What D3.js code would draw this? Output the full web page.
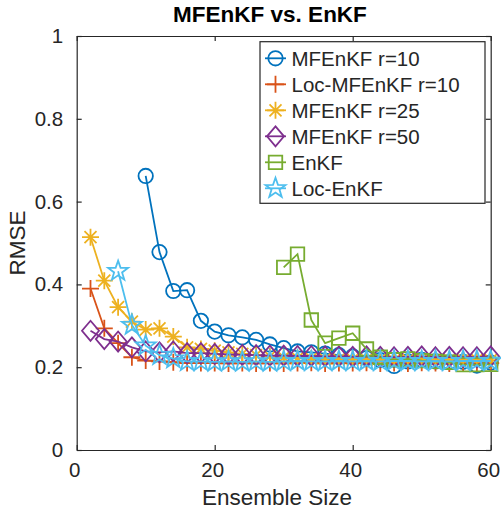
<!DOCTYPE html>
<html>
<head>
<meta charset="utf-8">
<script src="https://cdn.jsdelivr.net/npm/d3@7"></script>
<style>
    body { margin: 0; background: #fff; }
    svg { display: block; font-family: "Liberation Sans", Arial, sans-serif; }
    .axis text { fill: #262626; font-size: 20.5px; }
    .axis path, .axis line { stroke: #262626; stroke-width: 1.2; }
</style>
</head>
<body>
<div id="chart-container"></div>
<script>
// ensemble sizes on the x axis
var ensembleSizes = [2, 4, 6, 8, 10, 12, 14, 16, 18, 20, 22, 24, 26, 28, 30,
    32, 34, 36, 38, 40, 42, 44, 46, 48, 50, 52, 54, 56, 58, 60];

// RMSE per series, null where the method was not run
var mfenkf10 = [null, null, null, null, 0.662, 0.478, 0.384, 0.386, 0.312, 0.286,
    0.277, 0.272, 0.266, 0.255, 0.246, 0.238, 0.236, 0.233, 0.229, 0.226,
    0.222, 0.217, 0.203, 0.214, 0.218, 0.214, 0.212, 0.213, 0.204, 0.211];
var locMfenkf10 = [0.390, 0.294, 0.258, 0.224, 0.216, 0.214, 0.212, 0.210, 0.210, 0.210,
    0.209, 0.210, 0.209, 0.210, 0.209, 0.210, 0.211, 0.209, 0.210, 0.210,
    0.211, 0.209, 0.210, 0.209, 0.211, 0.210, 0.209, 0.210, 0.209, 0.210];
var mfenkf25 = [0.514, 0.409, 0.345, 0.310, 0.291, 0.294, 0.274, 0.248, 0.244, 0.240,
    0.236, 0.232, 0.229, 0.226, 0.224, 0.222, 0.221, 0.220, 0.219, 0.219,
    0.218, 0.219, 0.217, 0.218, 0.218, 0.217, 0.218, 0.217, 0.218, 0.217];
var mfenkf50 = [0.288, 0.268, 0.262, 0.248, 0.238, 0.236, 0.238, 0.234, 0.234, 0.232,
    0.231, 0.230, 0.229, 0.228, 0.228, 0.227, 0.227, 0.226, 0.226, 0.225,
    0.226, 0.225, 0.224, 0.225, 0.226, 0.224, 0.225, 0.224, 0.224, 0.226];
var enkf = [null, null, null, null, null, null, null, null, null, null,
    null, null, null, null, 0.441, 0.473, 0.314, 0.258, 0.270, 0.282,
    0.244, 0.224, 0.218, 0.220, 0.216, 0.214, 0.212, 0.206, 0.206, 0.207];
var locEnkf = [null, null, 0.432, 0.302, 0.252, 0.229, 0.221, 0.214, 0.214, 0.213,
    0.214, 0.213, 0.214, 0.213, 0.214, 0.215, 0.214, 0.214, 0.215, 0.214,
    0.215, 0.214, 0.215, 0.215, 0.214, 0.215, 0.214, 0.215, 0.215, 0.215];

var seriesNames = ["MFEnKF r=10", "Loc-MFEnKF r=10", "MFEnKF r=25", "MFEnKF r=50", "EnKF", "Loc-EnKF"];
var seriesValues = [mfenkf10, locMfenkf10, mfenkf25, mfenkf50, enkf, locEnkf];
var seriesColors = ["#0072BD", "#D95319", "#EDB120", "#7E2F8E", "#77AC30", "#4DBEEE"];
var seriesMarkers = ["circle", "plus", "asterisk", "diamond", "square", "pentagram"];

var xTicks = [0, 20, 40, 60];
var xTickLabels = ["0", "20", "40", "60"];
var yTicks = [0, 0.2, 0.4, 0.6, 0.8, 1];
var yTickLabels = ["0", "0.2", "0.4", "0.6", "0.8", "1"];

var settings = {
    w: 501,
    h: 510,
    left: 76.7,
    right: 490.7,
    top: 36,
    bottom: 450,
    tick: 5,
    lineWidth: 1.8,
    title: "MFEnKF vs. EnKF",
    xLabel: "Ensemble Size",
    yLabel: "RMSE"
};

// marker outlines, all drawn unfilled like matlab does
function markerPath(type) {
    var i, a, r, pts;
    switch (type) {
        case "circle":
            return d3.symbol().type(d3.symbolCircle).size(Math.PI * 7.2 * 7.2)();
        case "square":
            return d3.symbol().type(d3.symbolSquare).size(13.5 * 13.5)();
        case "diamond":
            return "M0,-10L8.5,0L0,10L-8.5,0Z";
        case "plus":
            return "M-8.5,0H8.5M0,-8.5V8.5";
        case "asterisk":
            return "M-8.5,0H8.5M0,-8.5V8.5M-6,-6L6,6M-6,6L6,-6";
        case "pentagram":
            pts = [];
            for (i = 0; i < 10; i++) {
                a = -Math.PI / 2 + i * Math.PI / 5;
                r = i % 2 === 0 ? 10.5 : 4.2;
                pts.push([r * Math.cos(a), r * Math.sin(a)]);
            }
            return "M" + pts.join("L") + "Z";
    }
}

var svg = d3.select("#chart-container").append("svg")
    .attr("width", settings.w)
    .attr("height", settings.h);

var xScale = d3.scaleLinear().domain([0, 60]).range([settings.left, settings.right]);
var yScale = d3.scaleLinear().domain([0, 1]).range([settings.bottom, settings.top]);

// axes box, ticks pointing inward
svg.append("g")
    .attr("class", "axis")
    .attr("transform", "translate(0," + settings.bottom + ")")
    .call(d3.axisBottom(xScale).tickValues(xTicks)
        .tickFormat(function(d, i) { return xTickLabels[i]; })
        .tickSize(-settings.tick).tickSizeOuter(0).tickPadding(12))
    .selectAll("text")
    .attr("dx", -2.5);

svg.append("g")
    .attr("class", "axis")
    .attr("transform", "translate(0," + settings.top + ")")
    .call(d3.axisTop(xScale).tickValues(xTicks).tickFormat("")
        .tickSize(-settings.tick).tickSizeOuter(0));

svg.append("g")
    .attr("class", "axis")
    .attr("transform", "translate(" + settings.left + ",0)")
    .call(d3.axisLeft(yScale).tickValues(yTicks)
        .tickFormat(function(d, i) { return yTickLabels[i]; })
        .tickSize(-settings.tick).tickSizeOuter(0).tickPadding(13.5));

svg.append("g")
    .attr("class", "axis")
    .attr("transform", "translate(" + settings.right + ",0)")
    .call(d3.axisRight(yScale).tickValues(yTicks).tickFormat("")
        .tickSize(-settings.tick).tickSizeOuter(0));

svg.selectAll(".axis").attr("font-size", null).attr("font-family", null);

// series
var line = d3.line()
    .defined(function(d) { return d.v !== null; })
    .x(function(d) { return xScale(d.x); })
    .y(function(d) { return yScale(d.v); });

seriesValues.forEach(function(values, s) {
    var pts = ensembleSizes.map(function(x, i) { return {x: x, v: values[i]}; });
    var g = svg.append("g").attr("class", "series");

    g.append("path")
        .datum(pts)
        .attr("d", line)
        .attr("fill", "none")
        .attr("stroke", seriesColors[s])
        .attr("stroke-width", settings.lineWidth);

    g.selectAll(".marker")
        .data(pts.filter(function(d) { return d.v !== null; }))
        .enter()
        .append("path")
        .attr("class", "marker")
        .attr("transform", function(d) {
            return "translate(" + xScale(d.x) + "," + yScale(d.v) + ")";
        })
        .attr("d", markerPath(seriesMarkers[s]))
        .attr("fill", "none")
        .attr("stroke", seriesColors[s])
        .attr("stroke-width", settings.lineWidth);
});

// labels
svg.append("text")
    .attr("x", 270)
    .attr("y", 22)
    .attr("text-anchor", "middle")
    .attr("font-weight", "bold")
    .attr("font-size", "22.5px")
    .attr("fill", "#000")
    .text(settings.title);

svg.append("text")
    .attr("x", 277)
    .attr("y", 505)
    .attr("text-anchor", "middle")
    .attr("font-size", "22.5px")
    .attr("fill", "#262626")
    .text(settings.xLabel);

svg.append("text")
    .attr("transform", "translate(25,243) rotate(-90)")
    .attr("text-anchor", "middle")
    .attr("font-size", "22.5px")
    .attr("fill", "#262626")
    .text(settings.yLabel);

// legend
var legend = svg.append("g").attr("transform", "translate(260,41.7)");

legend.append("rect")
    .attr("width", 225)
    .attr("height", 161.6)
    .attr("fill", "#fff")
    .attr("stroke", "#262626")
    .attr("stroke-width", 1.2);

var entries = legend.selectAll(".entry")
    .data(seriesNames)
    .enter()
    .append("g")
    .attr("class", "entry")
    .attr("transform", function(d, i) { return "translate(0," + (16.6 + i * 26) + ")"; });

entries.append("line")
    .attr("x1", 5).attr("x2", 26)
    .attr("stroke", function(d, i) { return seriesColors[i]; })
    .attr("stroke-width", settings.lineWidth);

entries.append("path")
    .attr("transform", "translate(15.5,0)")
    .attr("d", function(d, i) { return markerPath(seriesMarkers[i]); })
    .attr("fill", "none")
    .attr("stroke", function(d, i) { return seriesColors[i]; })
    .attr("stroke-width", settings.lineWidth);

entries.append("text")
    .attr("x", 31.5)
    .attr("dy", "0.36em")
    .attr("font-size", "20.5px")
    .attr("fill", "#262626")
    .text(function(d) { return d; });
</script>
</body>
</html>
